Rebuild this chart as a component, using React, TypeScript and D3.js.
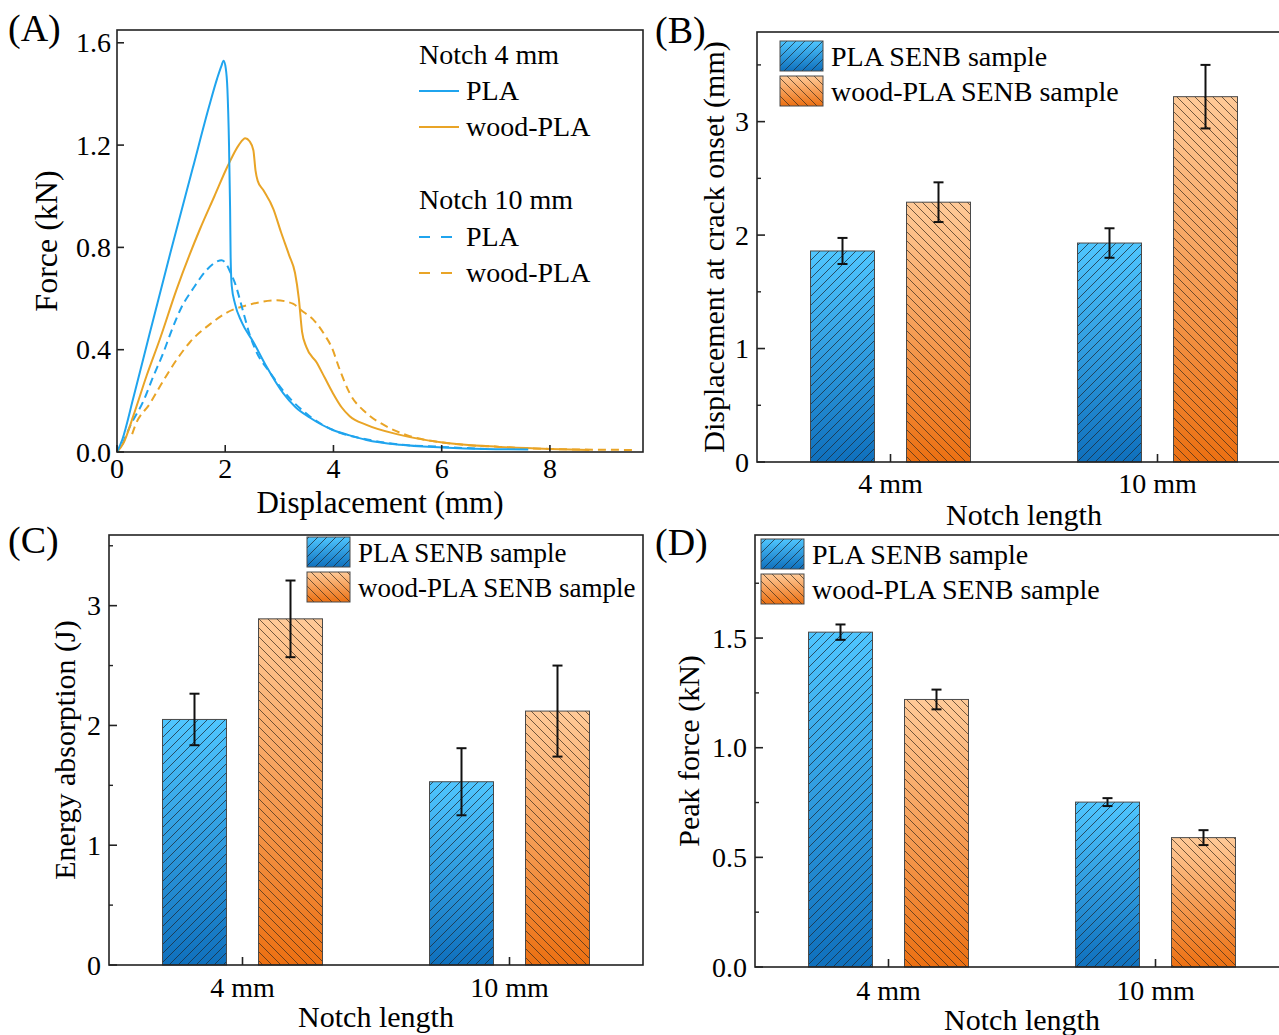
import React from 'react';
import * as d3 from 'd3';

const svgWidth = 1279;
const svgHeight = 1035;
const FONT = '"Liberation Serif", "Times New Roman", serif';

const BLUE = '#1fa4ee';
const ORANGE = '#e9a426';
const AXIS = '#222';

// (A) force vs displacement, [displacement (mm), force (kN)]
const pla4 = [
  [0, 0], [0.1, 0.05], [0.3, 0.21], [0.6, 0.46], [1.0, 0.79], [1.4, 1.11], [1.7, 1.35],
  [1.85, 1.46], [1.93, 1.51], [1.97, 1.53], [2.01, 1.5], [2.04, 1.42], [2.07, 1.2],
  [2.09, 0.95], [2.1, 0.76], [2.12, 0.65], [2.18, 0.58], [2.3, 0.51], [2.52, 0.43], [2.76, 0.335],
  [3.07, 0.23], [3.3, 0.175], [3.56, 0.135], [3.99, 0.086], [4.3, 0.065], [4.61, 0.047],
  [5.23, 0.028], [6.02, 0.018], [6.8, 0.012], [7.6, 0.01],
];
const wood4 = [
  [0, 0], [0.12, 0.035], [0.3, 0.14], [0.55, 0.3], [0.79, 0.44], [1.1, 0.635], [1.53, 0.87],
  [1.8, 1.0], [2.05, 1.12], [2.25, 1.2], [2.37, 1.227], [2.45, 1.215], [2.52, 1.18], [2.56, 1.1],
  [2.6, 1.06], [2.7, 1.025], [2.89, 0.95], [3.03, 0.86], [3.18, 0.77], [3.29, 0.7], [3.36, 0.6],
  [3.42, 0.47], [3.5, 0.41], [3.69, 0.35], [3.84, 0.29], [3.99, 0.23], [4.15, 0.175], [4.3, 0.14],
  [4.61, 0.106], [5.23, 0.067], [6.02, 0.037], [7.07, 0.02], [7.99, 0.012], [8.73, 0.008],
];
const pla10 = [
  [0.1, 0.03], [0.24, 0.1], [0.49, 0.2], [0.67, 0.295], [0.86, 0.39], [1.0, 0.47], [1.19, 0.565],
  [1.41, 0.64], [1.65, 0.71], [1.85, 0.745], [1.93, 0.75], [2.02, 0.735], [2.1, 0.7], [2.18, 0.66],
  [2.33, 0.55], [2.45, 0.46], [2.58, 0.39], [2.83, 0.31], [3.07, 0.24], [3.56, 0.14], [4.0, 0.085],
  [4.6, 0.05], [5.2, 0.03], [6.0, 0.02], [6.8, 0.012],
];
const wood10 = [
  [0.28, 0.07], [0.33, 0.1], [0.61, 0.19], [0.86, 0.28], [1.1, 0.36], [1.35, 0.43], [1.72, 0.5],
  [2.02, 0.544], [2.46, 0.577], [2.95, 0.593], [3.25, 0.58], [3.4, 0.555], [3.66, 0.51],
  [3.86, 0.45], [3.96, 0.413], [4.12, 0.32], [4.3, 0.23], [4.61, 0.152], [4.98, 0.1],
  [5.41, 0.062], [6.02, 0.037], [7.07, 0.02], [7.99, 0.012], [9.55, 0.008],
];
const dispTicks = [0, 2, 4, 6, 8];
const forceTicks = [0, 0.4, 0.8, 1.2, 1.6];

// bar panels
const notchLengths = ['4 mm', '10 mm'];
const sampleNames = ['PLA SENB sample', 'wood-PLA SENB sample'];

const crackPLA = [1.86, 1.93];
const crackPLAErr = [0.115, 0.13];
const crackWood = [2.29, 3.22];
const crackWoodErr = [0.175, 0.28];
const crackTicks = [0, 1, 2, 3];
const crackMinor = [0.5, 1.5, 2.5, 3.5];

const energyPLA = [2.05, 1.53];
const energyPLAErr = [0.215, 0.28];
const energyWood = [2.89, 2.12];
const energyWoodErr = [0.32, 0.38];
const energyTicks = [0, 1, 2, 3];
const energyMinor = [0.5, 1.5, 2.5, 3.5];

const peakPLA = [1.527, 0.752];
const peakPLAErr = [0.035, 0.018];
const peakWood = [1.22, 0.59];
const peakWoodErr = [0.045, 0.034];
const peakTicks = [0, 0.5, 1, 1.5];
const peakMinor = [0.25, 0.75, 1.25, 1.75];

function Defs() {
  return (
    <defs>
      <linearGradient id="gradBlue" x1="0" y1="0" x2="0" y2="1">
        <stop offset="0" stopColor="#4fc6ff" />
        <stop offset="1" stopColor="#0f70bd" />
      </linearGradient>
      <linearGradient id="gradOrange" x1="0" y1="0" x2="0" y2="1">
        <stop offset="0" stopColor="#ffca98" />
        <stop offset="1" stopColor="#ec7012" />
      </linearGradient>
      <pattern id="hatchBlue" patternUnits="userSpaceOnUse" width="9" height="9">
        <path d="M-2,2 L2,-2 M0,9 L9,0 M7,11 L11,7" stroke="#1c2a38" strokeWidth="0.9" opacity="0.85" />
      </pattern>
      <pattern id="hatchOrange" patternUnits="userSpaceOnUse" width="9" height="9">
        <path d="M-2,7 L2,11 M0,0 L9,9 M7,-2 L11,2" stroke="#3a2a1c" strokeWidth="0.9" opacity="0.8" />
      </pattern>
    </defs>
  );
}

function HatchRect({ x, y, width, height, kind }) {
  const grad = kind === 0 ? 'url(#gradBlue)' : 'url(#gradOrange)';
  const hatch = kind === 0 ? 'url(#hatchBlue)' : 'url(#hatchOrange)';
  return (
    <g>
      <rect x={x} y={y} width={width} height={height} fill={grad} />
      <rect x={x} y={y} width={width} height={height} fill={hatch} stroke="#4a4a4a" strokeWidth={1} />
    </g>
  );
}

function CurvePanel() {
  const left = 117, right = 643, top = 30, bottom = 452;
  const x = d3.scaleLinear().domain([0, 9.72]).range([left, right]);
  const y = d3.scaleLinear().domain([0, 1.65]).range([bottom, top]);
  const line = d3
    .line()
    .x((d) => x(d[0]))
    .y((d) => y(d[1]))
    .curve(d3.curveMonotoneX);

  const curves = [
    { data: wood10, color: ORANGE, dash: '8,5' },
    { data: pla10, color: BLUE, dash: '8,5' },
    { data: wood4, color: ORANGE, dash: null },
    { data: pla4, color: BLUE, dash: null },
  ];

  const legend = [
    { head: 'Notch 4 mm', y: 64 },
    { name: 'PLA', color: BLUE, dash: null, y: 91 },
    { name: 'wood-PLA', color: ORANGE, dash: null, y: 127 },
    { head: 'Notch 10 mm', y: 209 },
    { name: 'PLA', color: BLUE, dash: '11,11', y: 237 },
    { name: 'wood-PLA', color: ORANGE, dash: '11,11', y: 273 },
  ];

  return (
    <g fontFamily={FONT}>
      <clipPath id="clipA">
        <rect x={left} y={top} width={right - left} height={bottom - top} />
      </clipPath>
      <g clipPath="url(#clipA)">
        {curves.map((c, i) => (
          <path key={i} d={line(c.data)} fill="none" stroke={c.color} strokeWidth={2}
            strokeDasharray={c.dash || undefined} />
        ))}
      </g>
      <rect x={left} y={top} width={right - left} height={bottom - top} fill="none" stroke={AXIS} strokeWidth={1.6} />
      {forceTicks.map((t) => (
        <g key={'fy' + t}>
          <line x1={left} x2={left + 7} y1={y(t)} y2={y(t)} stroke={AXIS} strokeWidth={1.6} />
          <text x={left - 6} y={y(t)} dy="0.34em" textAnchor="end" fontSize={28}>{t.toFixed(1)}</text>
        </g>
      ))}
      {dispTicks.map((t) => (
        <g key={'fx' + t}>
          <line x1={x(t)} x2={x(t)} y1={bottom} y2={bottom - 7} stroke={AXIS} strokeWidth={1.6} />
          <text x={x(t)} y={478} textAnchor="middle" fontSize={28}>{t}</text>
        </g>
      ))}
      <text x={(left + right) / 2} y={513} textAnchor="middle" fontSize={31}>Displacement (mm)</text>
      <text transform={`translate(57,${(top + bottom) / 2}) rotate(-90)`} textAnchor="middle" fontSize={32}>Force (kN)</text>
      <text x={8} y={41} fontSize={38}>(A)</text>
      {legend.map((l, i) =>
        l.head ? (
          <text key={i} x={419} y={l.y} fontSize={28}>{l.head}</text>
        ) : (
          <g key={i}>
            <line x1={419} x2={l.dash ? 452 : 459} y1={l.y} y2={l.y} stroke={l.color} strokeWidth={2}
              strokeDasharray={l.dash || undefined} />
            <text x={466} y={l.y + 9} fontSize={28}>{l.name}</text>
          </g>
        )
      )}
    </g>
  );
}

function BarPanel(props) {
  const {
    left, top, bottom, yMax, ticks, minor, fmt, pla, plaErr, wood, woodErr,
    yTitle, yTitleX, label, labelX, labelY, legendX, legendY, legendFont, tickBase, titleBase,
  } = props;
  const right = left + 534;
  const x = d3.scaleBand().domain(notchLengths).range([left, right]);
  const inner = d3.scaleBand().domain(sampleNames).range([-80, 80]).paddingInner(1 / 3);
  const y = d3.scaleLinear().domain([0, yMax]).range([bottom, top]);
  const series = [
    { vals: pla, errs: plaErr },
    { vals: wood, errs: woodErr },
  ];

  return (
    <g fontFamily={FONT}>
      {series.map((s, si) =>
        notchLengths.map((n, ni) => {
          const bx = x(n) + x.bandwidth() / 2 + inner(sampleNames[si]);
          const v = s.vals[ni];
          return (
            <HatchRect key={si + '-' + ni} x={bx} y={y(v)} width={inner.bandwidth()} height={bottom - y(v)} kind={si} />
          );
        })
      )}
      {series.map((s, si) =>
        notchLengths.map((n, ni) => {
          const cx = x(n) + x.bandwidth() / 2 + inner(sampleNames[si]) + inner.bandwidth() / 2;
          const v = s.vals[ni];
          const e = s.errs[ni];
          return (
            <g key={'e' + si + ni} stroke="#111" strokeWidth={2}>
              <line x1={cx} x2={cx} y1={y(v + e)} y2={y(v - e)} />
              <line x1={cx - 5} x2={cx + 5} y1={y(v + e)} y2={y(v + e)} />
              <line x1={cx - 5} x2={cx + 5} y1={y(v - e)} y2={y(v - e)} />
            </g>
          );
        })
      )}
      <rect x={left} y={top} width={right - left} height={bottom - top} fill="none" stroke={AXIS} strokeWidth={1.6} />
      {ticks.map((t) => (
        <g key={'t' + t}>
          <line x1={left} x2={left + 8} y1={y(t)} y2={y(t)} stroke={AXIS} strokeWidth={1.6} />
          <text x={left - 8} y={y(t)} dy="0.34em" textAnchor="end" fontSize={28}>{fmt(t)}</text>
        </g>
      ))}
      {minor.map((t) => (
        <line key={'m' + t} x1={left} x2={left + 4} y1={y(t)} y2={y(t)} stroke={AXIS} strokeWidth={1.4} />
      ))}
      {notchLengths.map((n) => (
        <g key={n}>
          <line x1={x(n) + x.bandwidth() / 2} x2={x(n) + x.bandwidth() / 2} y1={bottom} y2={bottom - 8}
            stroke={AXIS} strokeWidth={1.6} />
          <text x={x(n) + x.bandwidth() / 2} y={tickBase} textAnchor="middle" fontSize={28}>{n}</text>
        </g>
      ))}
      <text x={(left + right) / 2} y={titleBase} textAnchor="middle" fontSize={30}>Notch length</text>
      <text transform={`translate(${yTitleX},${(top + bottom) / 2}) rotate(-90)`} textAnchor="middle" fontSize={30}>
        {yTitle}
      </text>
      <text x={labelX} y={labelY} fontSize={38}>{label}</text>
      {sampleNames.map((name, i) => (
        <g key={name}>
          <HatchRect x={legendX} y={legendY + i * 35} width={43} height={30} kind={i} />
          <text x={legendX + 51} y={legendY + i * 35 + 25} fontSize={legendFont}>{name}</text>
        </g>
      ))}
    </g>
  );
}

export default function App() {
  const intFmt = (t) => String(t);
  const decFmt = (t) => t.toFixed(1);
  return (
    <svg width={svgWidth} height={svgHeight} style={{ position: 'absolute', left: 0, top: 0, background: '#fff' }}>
      <Defs />
      <rect width={svgWidth} height={svgHeight} fill="#fff" />
      <CurvePanel />
      <BarPanel
        left={757} top={32} bottom={462} yMax={3.79} ticks={crackTicks} minor={crackMinor} fmt={intFmt}
        pla={crackPLA} plaErr={crackPLAErr} wood={crackWood} woodErr={crackWoodErr}
        yTitle="Displacement at crack onset (mm)" yTitleX={724}
        label="(B)" labelX={655} labelY={43} legendX={780} legendY={41} legendFont={28} tickBase={493} titleBase={525}
      />
      <BarPanel
        left={109} top={535} bottom={965} yMax={3.59} ticks={energyTicks} minor={energyMinor} fmt={intFmt}
        pla={energyPLA} plaErr={energyPLAErr} wood={energyWood} woodErr={energyWoodErr}
        yTitle="Energy absorption (J)" yTitleX={75}
        label="(C)" labelX={8} labelY={553} legendX={307} legendY={537} legendFont={27} tickBase={997} titleBase={1027}
      />
      <BarPanel
        left={755} top={535} bottom={967} yMax={1.97} ticks={peakTicks} minor={peakMinor} fmt={decFmt}
        pla={peakPLA} plaErr={peakPLAErr} wood={peakWood} woodErr={peakWoodErr}
        yTitle="Peak force (kN)" yTitleX={699}
        label="(D)" labelX={655} labelY={555} legendX={761} legendY={539} legendFont={28} tickBase={1000} titleBase={1030}
      />
    </svg>
  );
}
